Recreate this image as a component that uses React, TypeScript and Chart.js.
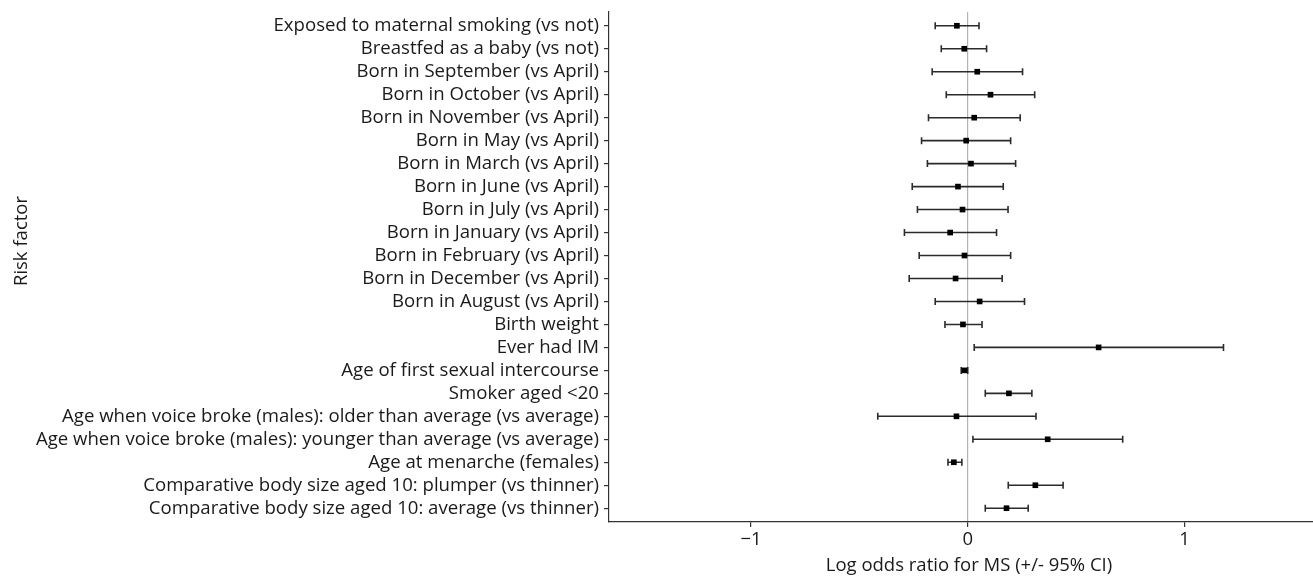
import React, { useEffect, useRef } from "react";
import { Chart, registerables } from "chart.js";

Chart.register(...registerables);

const riskFactors: string[] = [
  "Exposed to maternal smoking (vs not)",
  "Breastfed as a baby (vs not)",
  "Born in September (vs April)",
  "Born in October (vs April)",
  "Born in November (vs April)",
  "Born in May (vs April)",
  "Born in March (vs April)",
  "Born in June (vs April)",
  "Born in July (vs April)",
  "Born in January (vs April)",
  "Born in February (vs April)",
  "Born in December (vs April)",
  "Born in August (vs April)",
  "Birth weight",
  "Ever had IM",
  "Age of first sexual intercourse",
  "Smoker aged <20",
  "Age when voice broke (males): older than average (vs average)",
  "Age when voice broke (males): younger than average (vs average)",
  "Age at menarche (females)",
  "Comparative body size aged 10: plumper (vs thinner)",
  "Comparative body size aged 10: average (vs thinner)",
];

const estimates: number[] = [
  -0.05, -0.016, 0.044, 0.105, 0.03, -0.007, 0.015, -0.045, -0.024, -0.081, -0.015,
  -0.056, 0.055, -0.022, 0.604, -0.015, 0.19, -0.052, 0.369, -0.064, 0.312, 0.179,
];

const lowerCI: number[] = [
  -0.15, -0.122, -0.164, -0.099, -0.181, -0.213, -0.186, -0.256, -0.232, -0.292, -0.224,
  -0.27, -0.15, -0.105, 0.03, -0.03, 0.081, -0.415, 0.024, -0.091, 0.187, 0.081,
];

const upperCI: number[] = [
  0.052, 0.087, 0.253, 0.309, 0.242, 0.198, 0.221, 0.164, 0.186, 0.133, 0.198,
  0.159, 0.262, 0.066, 1.18, 0.0, 0.296, 0.315, 0.715, -0.027, 0.44, 0.279,
];

const xTickValues: number[] = [-1, 0, 1];
const xTickLabels: string[] = ["\u22121", "0", "1"];

const xTitle = "Log odds ratio for MS (+/- 95% CI)";
const yTitle = "Risk factor";

const FONT = "'Open Sans', 'DejaVu Sans', sans-serif";

const errorBarsPlugin = {
  id: "errorBars",
  beforeDatasetsDraw(chart: any) {
    const { ctx, scales } = chart;
    const x = scales.x;
    const y = scales.y;
    ctx.save();
    ctx.strokeStyle = "#2b2b2b";
    ctx.lineWidth = 1.6;
    const cap = 3.5;
    lowerCI.forEach((lo, i) => {
      const yy = y.getPixelForValue(i + 1);
      const x0 = x.getPixelForValue(lo);
      const x1 = x.getPixelForValue(upperCI[i]);
      ctx.beginPath();
      ctx.moveTo(x0, yy);
      ctx.lineTo(x1, yy);
      ctx.moveTo(x0, yy - cap);
      ctx.lineTo(x0, yy + cap);
      ctx.moveTo(x1, yy - cap);
      ctx.lineTo(x1, yy + cap);
      ctx.stroke();
    });
    ctx.restore();
  },
};

const axisTitlesPlugin = {
  id: "axisTitles",
  afterDraw(chart: any) {
    const { ctx } = chart;
    ctx.save();
    ctx.fillStyle = "#1a1a1a";
    ctx.font = `18.5px ${FONT}`;
    ctx.textAlign = "center";
    ctx.textBaseline = "middle";
    ctx.fillText(xTitle, 969, 566);
    ctx.translate(22, 241);
    ctx.rotate(-Math.PI / 2);
    ctx.fillText(yTitle, 0, 0);
    ctx.restore();
  },
};

export default function App() {
  const canvasRef = useRef<HTMLCanvasElement | null>(null);

  useEffect(() => {
    document.body.style.margin = "0";
    const canvas = canvasRef.current;
    if (!canvas) return;
    const chart = new Chart(canvas, {
      type: "scatter",
      data: {
        datasets: [
          {
            data: estimates.map((v, i) => ({ x: v, y: i + 1 })),
            pointStyle: "rect",
            radius: 4,
            backgroundColor: "#000000",
            borderWidth: 0,
            showLine: false,
          },
        ],
      },
      options: {
        animation: false,
        responsive: false,
        devicePixelRatio: 1,
        layout: { autoPadding: false, padding: { top: 12, right: 0, left: 0, bottom: 0 } },
        plugins: {
          legend: { display: false },
          tooltip: { enabled: false },
        },
        scales: {
          x: {
            type: "linear",
            min: -1.655,
            max: 1.593,
            afterBuildTicks: (scale: any) => {
              scale.ticks = xTickValues.map((v) => ({ value: v }));
            },
            afterFit: (scale: any) => {
              scale.height = 56;
              scale.paddingLeft = 0;
              scale.paddingRight = 0;
            },
            ticks: {
              font: { family: FONT, size: 18.5 },
              color: "#1a1a1a",
              padding: 2,
              callback: (value: any) => {
                const idx = xTickValues.indexOf(Number(value));
                return idx >= 0 ? xTickLabels[idx] : "";
              },
            },
            grid: {
              drawOnChartArea: true,
              drawTicks: true,
              tickLength: 5,
              tickColor: "#333333",
              lineWidth: 1.2,
              color: (ctx: any) =>
                ctx.tick && ctx.tick.value === 0 ? "#b3b3b3" : "rgba(0,0,0,0)",
            },
            border: { color: "#333333", width: 1.2 },
            title: { display: false },
          },
          y: {
            type: "linear",
            reverse: true,
            min: 0.4,
            max: 22.6,
            afterBuildTicks: (scale: any) => {
              scale.ticks = riskFactors.map((_, i) => ({ value: i + 1 }));
            },
            afterFit: (scale: any) => {
              scale.width = 609;
              scale.paddingTop = 0;
              scale.paddingBottom = 0;
            },
            ticks: {
              font: { family: FONT, size: 18.6 },
              color: "#1a1a1a",
              padding: 5,
              autoSkip: false,
              callback: (value: any) => riskFactors[Number(value) - 1] ?? "",
            },
            grid: {
              drawOnChartArea: false,
              drawTicks: true,
              tickLength: 5,
              tickColor: "#333333",
              lineWidth: 1.2,
            },
            border: { color: "#333333", width: 1.2 },
            title: { display: false },
          },
        },
      },
      plugins: [errorBarsPlugin, axisTitlesPlugin],
    });
    return () => chart.destroy();
  }, []);

  return (
    <div style={{ width: 1313, height: 578 }}>
      <canvas ref={canvasRef} width={1313} height={578} />
    </div>
  );
}
